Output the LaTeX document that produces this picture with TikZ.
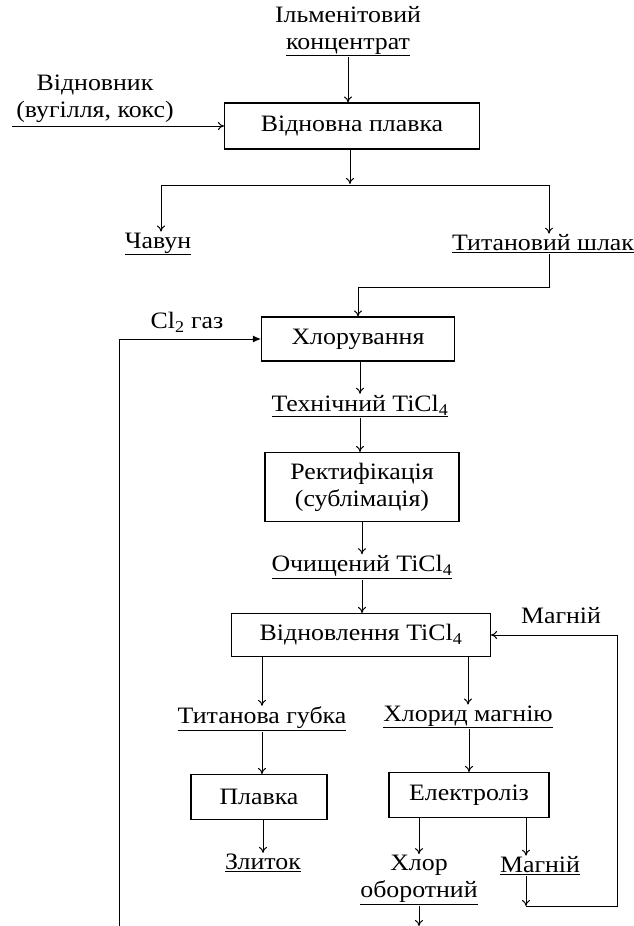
\documentclass[tikz,border=0pt]{standalone}
\usepackage{fontspec}
\setmainfont[FakeStretch=1.1]{Liberation Serif}
\usetikzlibrary{arrows.meta}
\begin{document}
\begin{tikzpicture}[x=1pt,y=-1pt,
  every node/.style={font=\fontsize{23.5}{27}\selectfont, align=center},
  lbl/.style={inner sep=1pt},
  proc/.style={draw, line width=1.1pt, inner sep=0pt},
  ln/.style={line width=1pt},
  arr/.style={ln, -{To[length=6pt,width=8pt]}},
  arrL/.style={ln, -{Latex[length=8pt,width=7pt]}}]
\useasboundingbox (0,0) rectangle (633,926);

\node[lbl] (ilm) at (348,31) {Ільменітовий\\\underline{концентрат}};
\node[proc, minimum width=255pt, minimum height=46pt] (b1) at (352,126) {Відновна плавка};
\node[lbl] (vidn) at (95,99) {Відновник\\(вугілля, кокс)};
\coordinate (vin) at (12,126);
\draw[arr] (vin) -- (b1.west);
\draw[arr] (ilm.south) -- (ilm.south |- b1.north);

\coordinate (sp) at (350,184);
\draw[arr] (b1.south -| sp) -- (sp);
\coordinate (bl) at (161,185);
\coordinate (br) at (549,185);
\draw[ln] (bl) -- (br);
\node[lbl] (chav) at (158,244) {\underline{Чавун}};
\node[lbl] (shl) at (543,244) {\underline{Титановий шлак}};
\draw[arr] (bl) -- (bl |- chav.north);
\draw[arr] (br) -- (br |- shl.north);

\node[proc, minimum width=193pt, minimum height=44pt] (b2) at (358,339) {Хлорування};
\coordinate (j1) at (549,287);
\draw[arr] (br |- shl.south) -- (j1) -| (b2.north);
\node[lbl] (cl) at (187,322) {Cl\textsubscript{2} газ};
\coordinate (lb) at (119,926);
\draw[arrL] (lb) |- (b2.west);

\node[lbl] (tech) at (360,406) {\underline{Технічний TiCl\textsubscript{4}}};
\draw[arr] (b2.south -| tech) -- (tech.north);
\node[proc, minimum width=194pt, minimum height=69pt] (b3) at (362,487) {Ректифікація\\(сублімація)};
\draw[arr] (tech.south) -- (tech.south |- b3.north);
\node[lbl] (och) at (362,567) {\underline{Очищений TiCl\textsubscript{4}}};
\draw[arr] (b3.south -| och) -- (och.north);
\node[proc, minimum width=259pt, minimum height=43pt] (b4) at (361,635) {Відновлення TiCl\textsubscript{4}};
\draw[arr] (och.south) -- (och.south |- b4.north);
\node[lbl] (mg1) at (561,616) {Магній};

\node[lbl] (gub) at (262,719) {\underline{Титанова губка}};
\node[lbl] (hlm) at (468,717) {\underline{Хлорид магнію}};
\draw[arr] (b4.south -| gub) -- (gub.north);
\draw[arr] (b4.south -| hlm) -- (hlm.north);
\node[proc, minimum width=136pt, minimum height=45pt] (b5) at (259,797) {Плавка};
\draw[arr] (gub.south) -- (gub.south |- b5.north);
\node[lbl] (zl) at (263,863) {\underline{Злиток}};
\draw[arr] (b5.south -| zl) -- (zl.north);

\node[proc, minimum width=160pt, minimum height=45pt] (b6) at (469,795) {Електроліз};
\draw[arr] (hlm.south -| b6) -- (b6.north);
\node[lbl] (hlo) at (419,880) {Хлор\\\underline{оборотний}};
\node[lbl] (mg2) at (540,866) {\underline{Магній}};
\coordinate (mx) at (526,906);
\draw[arr] (b6.south -| hlo) -- (hlo.north);
\draw[arr] (b6.south -| mx) -- (mx |- mg2.north);
\draw[arr] (mx |- mg2.south) -- (mx);
\coordinate (mr) at (617,906);
\draw[arr] (mx) -- (mr) |- (b4.east);
\coordinate (hb) at (419,926);
\draw[arr] (hlo.south) -- (hb);
\end{tikzpicture}
\end{document}
